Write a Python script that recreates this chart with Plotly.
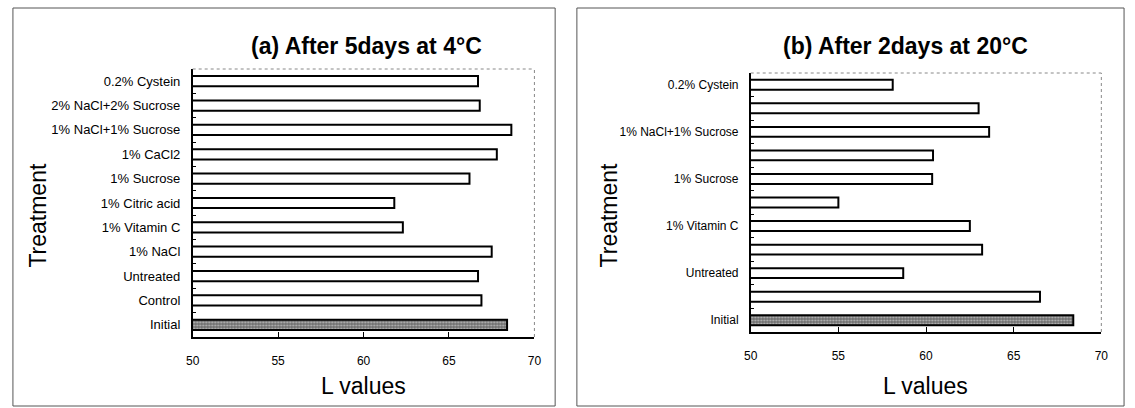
import plotly.graph_objects as go

# ---- data ----
categories = ["0.2% Cystein", "2% NaCl+2% Sucrose", "1% NaCl+1% Sucrose", "1% CaCl2",
              "1% Sucrose", "1% Citric acid", "1% Vitamin C", "1% NaCl",
              "Untreated", "Control", "Initial"]
values_a = [66.7, 66.8, 68.65, 67.8, 66.2, 61.8, 62.3, 67.5, 66.7, 66.9, 68.4]
values_b = [58.1, 63.0, 63.6, 60.4, 60.35, 55.0, 62.5, 63.2, 58.7, 66.5, 68.4]
x_ticks = [50, 55, 60, 65, 70]
title_a = "(a) After 5days at 4°C"
title_b = "(b) After 2days at 20°C"
labels_b = [c if i % 2 == 0 else "" for i, c in enumerate(categories)]

W, H = 1135, 408
FONT = "Liberation Sans, Arial, sans-serif"

def px(x):
    return x / W

def py(y):
    return 1 - y / H

colors = ["white"] * (len(categories) - 1) + ["#6e6e6e"]
shapes_pat = [""] * (len(categories) - 1) + ["."]

fig = go.Figure()
for vals, xa, ya in [(values_a, "x", "y"), (values_b, "x2", "y2")]:
    fig.add_trace(go.Bar(
        x=vals, y=categories, orientation="h", xaxis=xa, yaxis=ya,
        width=0.42,
        marker=dict(color=colors, line=dict(color="black", width=2),
                    pattern=dict(shape=shapes_pat, fgcolor="#e6e6e6", size=3, solidity=0.35)),
        showlegend=False, hoverinfo="skip",
    ))

xcommon = dict(range=[50, 70], tickmode="array", tickvals=x_ticks, ticks="inside",
               ticklen=5, tickwidth=1.2, tickcolor="black", showline=True,
               linecolor="black", linewidth=1.5, showgrid=False, zeroline=False,
               tickfont=dict(family=FONT, size=12, color="black"), ticklabelstandoff=12)
ycommon = dict(type="category", autorange="reversed", ticks="inside", tickson="boundaries",
               ticklen=4, tickwidth=1, tickcolor="black", showline=True, linecolor="black",
               linewidth=1.5, showgrid=False, zeroline=False, ticklabelstandoff=8,
               categoryorder="array", categoryarray=categories)

fig.update_layout(
    width=W, height=H, margin=dict(l=0, r=0, t=0, b=0),
    paper_bgcolor="white", plot_bgcolor="white", bargap=0.58,
    xaxis=dict(domain=[px(188), px(534)], anchor="y", **xcommon),
    yaxis=dict(domain=[py(337), py(69)], anchor="x",
               tickfont=dict(family=FONT, size=13, color="black"), **ycommon),
    xaxis2=dict(domain=[px(753), px(1108)], anchor="y2", **xcommon),
    yaxis2=dict(domain=[py(332), py(73)], anchor="x2", tickmode="array",
                tickvals=categories, ticktext=labels_b,
                tickfont=dict(family=FONT, size=12, color="black"), **ycommon),
)

shapes = []
# outer panel boxes
for x0, x1 in [(6, 555), (577, 1131)]:
    shapes.append(dict(type="rect", xref="paper", yref="paper", x0=px(x0), x1=px(x1),
                       y0=py(406), y1=py(8), line=dict(color="#555", width=1)))
# dotted top/right frame of plot areas
for xr, yr in [("x domain", "y domain"), ("x2 domain", "y2 domain")]:
    shapes.append(dict(type="line", xref=xr, yref=yr, x0=0, x1=1, y0=1, y1=1,
                       line=dict(color="#888", width=1, dash="dot")))
    shapes.append(dict(type="line", xref=xr, yref=yr, x0=1, x1=1, y0=0, y1=1,
                       line=dict(color="#888", width=1, dash="dot")))
fig.update_layout(shapes=shapes)

ann = []
ann.append(dict(text=f"<b>{title_a}</b>", x=px(364), y=py(46), xref="paper", yref="paper",
                showarrow=False, xanchor="center", yanchor="middle",
                font=dict(family=FONT, size=23, color="black")))
ann.append(dict(text=f"<b>{title_b}</b>", x=px(910), y=py(46), xref="paper", yref="paper",
                showarrow=False, xanchor="center", yanchor="middle",
                font=dict(family=FONT, size=23, color="black")))
for xc in [361, 930]:
    ann.append(dict(text="L values", x=px(xc), y=py(386), xref="paper", yref="paper",
                    showarrow=False, xanchor="center", yanchor="middle",
                    font=dict(family=FONT, size=23, color="black")))
for xc in [31, 610]:
    ann.append(dict(text="Treatment", x=px(xc), y=py(215), xref="paper", yref="paper",
                    showarrow=False, xanchor="center", yanchor="middle", textangle=-90,
                    font=dict(family=FONT, size=23, color="black")))
fig.update_layout(annotations=ann)

fig.write_html("out.html", config={"displayModeBar": False},
               post_script="document.body.style.margin='0';")
